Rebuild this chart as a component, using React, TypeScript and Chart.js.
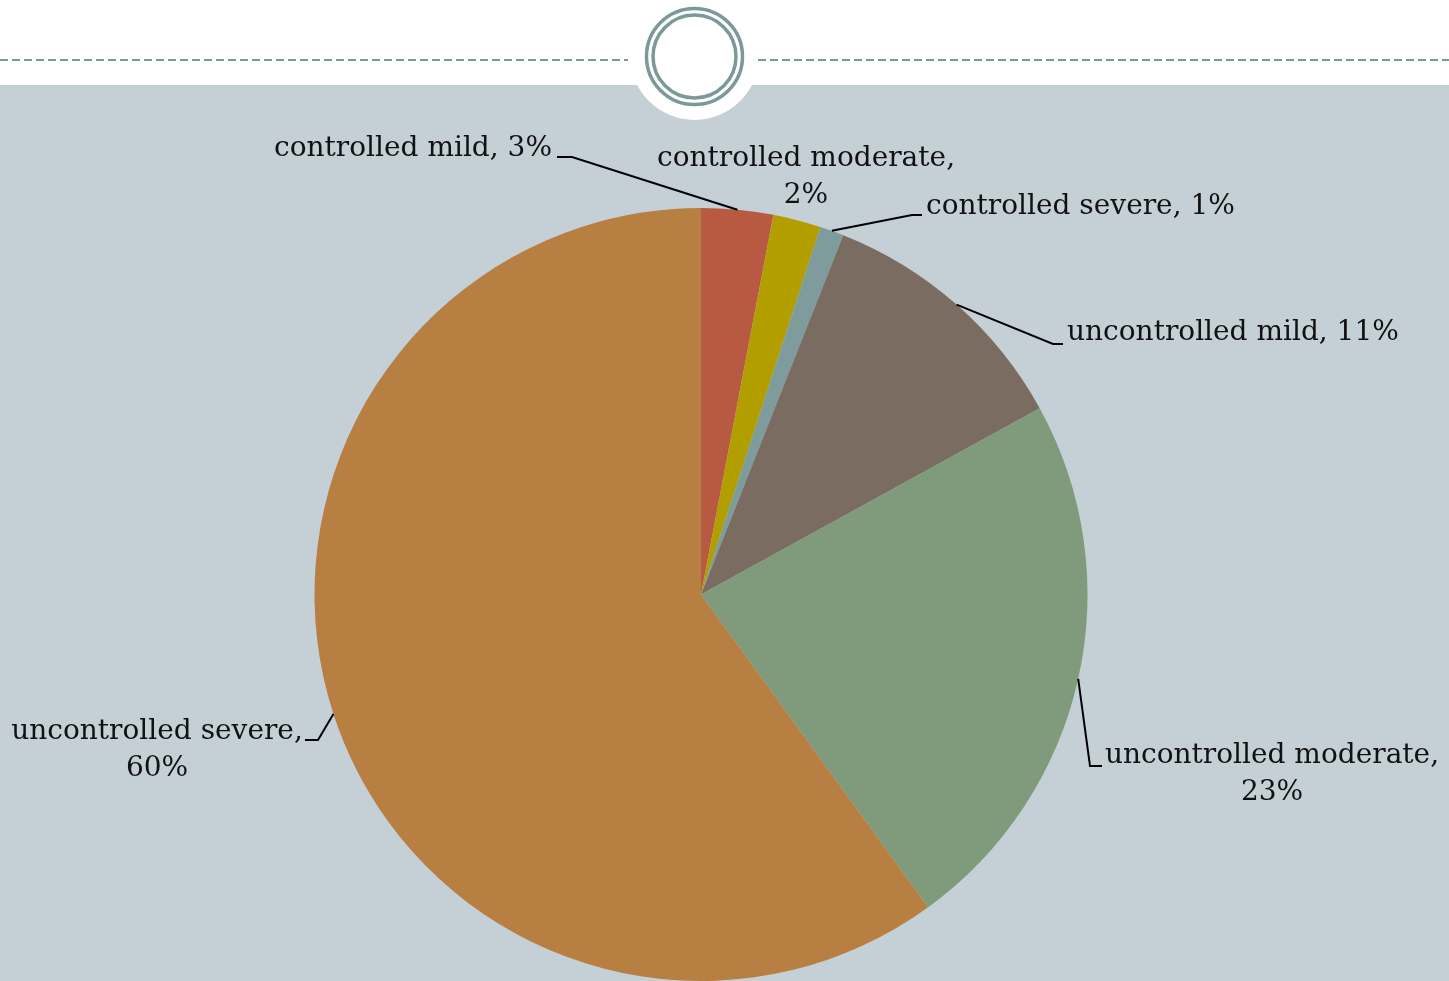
import React, { useEffect, useRef } from "react";
import { Chart, registerables } from "chart.js";

Chart.register(...registerables);

const categories = [
  "controlled mild",
  "controlled moderate",
  "controlled severe",
  "uncontrolled mild",
  "uncontrolled moderate",
  "uncontrolled severe",
];
const percentages = [3, 2, 1, 11, 23, 60];
const sliceColors = ["#B85A42", "#B39E00", "#7F9C9C", "#7A6C60", "#7F9B7C", "#B87F42"];

// label layout: text anchor, alignment, line breaking, leader elbow/end
const labelLayout = [
  { x: 552, y: 149, align: "right", split: false, elbow: [572, 157], end: [557, 157] },
  { x: 806, y: 159, align: "center", split: true, elbow: null, end: null },
  { x: 926, y: 207, align: "left", split: false, elbow: [912, 215], end: [922, 215] },
  { x: 1067, y: 333, align: "left", split: false, elbow: [1053, 344], end: [1063, 344] },
  { x: 1272, y: 756, align: "center", split: true, elbow: [1090, 766], end: [1102, 766] },
  { x: 157, y: 732, align: "center", split: true, elbow: [318, 740], end: [305, 740] },
];

const FONT = "28px 'DejaVu Serif', serif";
const BG = "#C5D0D6";
const ACCENT = "#7A9A98";

const backgroundPlugin = {
  id: "slideBackground",
  beforeDraw(chart: any) {
    const ctx = chart.ctx as CanvasRenderingContext2D;
    const w = chart.width;
    const h = chart.height;
    ctx.save();
    ctx.fillStyle = "#ffffff";
    ctx.fillRect(0, 0, w, h);
    ctx.fillStyle = BG;
    ctx.fillRect(0, 85, w, h - 85);
    // white notch
    ctx.fillStyle = "#ffffff";
    ctx.beginPath();
    ctx.arc(694.5, 55.5, 64.5, 0, Math.PI * 2);
    ctx.fill();
    // dashed line
    ctx.strokeStyle = ACCENT;
    ctx.lineWidth = 2;
    ctx.setLineDash([8, 4]);
    ctx.beginPath();
    ctx.moveTo(0, 60);
    ctx.lineTo(628, 60);
    ctx.moveTo(758, 60);
    ctx.lineTo(w, 60);
    ctx.stroke();
    ctx.setLineDash([]);
    // rings
    ctx.lineWidth = 3.5;
    ctx.beginPath();
    ctx.arc(694.5, 56.5, 48, 0, Math.PI * 2);
    ctx.stroke();
    ctx.beginPath();
    ctx.arc(694.5, 56.5, 41.5, 0, Math.PI * 2);
    ctx.stroke();
    ctx.restore();
  },
};

const labelPlugin = {
  id: "pieLabels",
  afterDatasetsDraw(chart: any) {
    const ctx = chart.ctx as CanvasRenderingContext2D;
    const meta = chart.getDatasetMeta(0);
    ctx.save();
    ctx.font = FONT;
    ctx.fillStyle = "#111111";
    ctx.strokeStyle = "#000000";
    ctx.lineWidth = 2;
    ctx.textBaseline = "middle";
    meta.data.forEach((arc: any, i: number) => {
      const p = arc.getProps(["x", "y", "startAngle", "endAngle", "outerRadius"], true);
      const mid = (p.startAngle + p.endAngle) / 2;
      const ax = p.x + Math.cos(mid) * p.outerRadius;
      const ay = p.y + Math.sin(mid) * p.outerRadius;
      const L = labelLayout[i];
      if (L.elbow && L.end) {
        ctx.beginPath();
        ctx.moveTo(ax, ay);
        ctx.lineTo(L.elbow[0], L.elbow[1]);
        ctx.lineTo(L.end[0], L.end[1]);
        ctx.stroke();
      }
      const val = `${percentages[i]}%`;
      const lines = L.split ? [`${categories[i]},`, val] : [`${categories[i]}, ${val}`];
      ctx.textAlign = L.align as CanvasTextAlign;
      lines.forEach((t, k) => ctx.fillText(t, L.x, L.y + k * 36.5));
    });
    ctx.restore();
  },
};

export default function App() {
  const ref = useRef<HTMLCanvasElement | null>(null);
  useEffect(() => {
    if (!ref.current) return;
    const chart = new Chart(ref.current, {
      type: "pie",
      data: {
        labels: categories,
        datasets: [
          {
            data: percentages,
            backgroundColor: sliceColors,
            borderWidth: 0,
          },
        ],
      },
      options: {
        animation: false,
        responsive: false,
        maintainAspectRatio: false,
        layout: { padding: { left: 314, right: 361, top: 208, bottom: 0 } },
        plugins: {
          legend: { display: false },
          tooltip: { enabled: false },
          title: { display: false },
        },
      },
      plugins: [backgroundPlugin, labelPlugin],
    });
    return () => chart.destroy();
  }, []);
  return (
    <div style={{ position: "absolute", left: 0, top: 0, width: 1449, height: 981, overflow: "hidden" }}>
      <canvas ref={ref} width={1449} height={981} style={{ display: "block" }} />
    </div>
  );
}
